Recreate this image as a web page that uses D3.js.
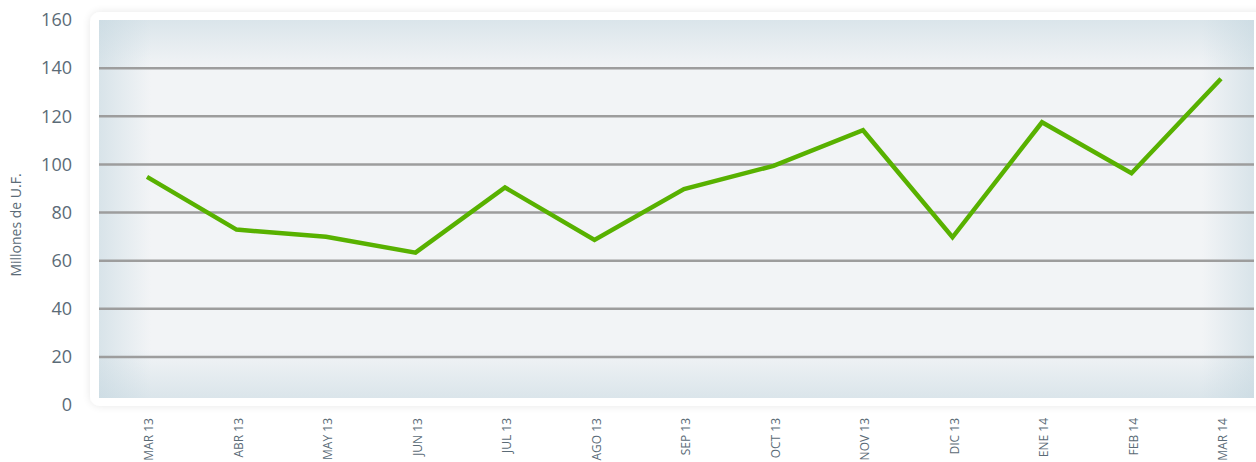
<!DOCTYPE html>
<html lang="es">
<head>
    <meta charset="UTF-8">
    <title>Millones de U.F.</title>
    <style>
        body {
            margin: 0;
            padding: 0;
            background: #fff;
            overflow: hidden;
            font-family: "Open Sans", Arial, sans-serif;
        }

        .grid line {
            stroke: #9d9d9d;
            stroke-width: 2.5px;
        }

        .y-label, .x-label, .axis-title {
            fill: #5b6b77;
        }
    </style>
</head>
<body>
    <script src="https://d3js.org/d3.v7.min.js"></script>
    <script>
        const months = ["MAR 13", "ABR 13", "MAY 13", "JUN 13", "JUL 13", "AGO 13", "SEP 13",
                        "OCT 13", "NOV 13", "DIC 13", "ENE 14", "FEB 14", "MAR 14"];
        const values = [94.8, 72.9, 69.9, 63.3, 90.4, 68.6, 89.7, 99.4, 114.2, 69.7, 117.5, 96.3, 135.6];
        const yTicks = [0, 20, 40, 60, 80, 100, 120, 140, 160];

        const width = 1256;
        const height = 462;

        const svg = d3.select("body").append("svg")
            .attr("width", width)
            .attr("height", height);

        const x = d3.scalePoint()
            .domain(months)
            .range([147, 1221]);

        const y = d3.scaleLinear()
            .domain([0, 160])
            .range([405, 20]);

        const defs = svg.append("defs");

        // soft shadow for the white frame
        const shadow = defs.append("filter")
            .attr("id", "shadow")
            .attr("x", "-5%").attr("y", "-10%")
            .attr("width", "110%").attr("height", "120%");
        shadow.append("feGaussianBlur")
            .attr("in", "SourceAlpha")
            .attr("stdDeviation", 4);
        shadow.append("feComponentTransfer")
            .append("feFuncA").attr("type", "linear").attr("slope", 0.1);
        const merge = shadow.append("feMerge");
        merge.append("feMergeNode");
        merge.append("feMergeNode").attr("in", "SourceGraphic");

        // vignette: horizontal and vertical fades to a bluish edge
        const hGrad = defs.append("linearGradient")
            .attr("id", "hgrad").attr("x1", 0).attr("x2", 1).attr("y1", 0).attr("y2", 0);
        [[0, 0.55], [0.045, 0], [0.955, 0], [1, 0.55]].forEach(([o, a]) => {
            hGrad.append("stop").attr("offset", o).attr("stop-color", "#c3d6df").attr("stop-opacity", a);
        });
        const vGrad = defs.append("linearGradient")
            .attr("id", "vgrad").attr("x1", 0).attr("x2", 0).attr("y1", 0).attr("y2", 1);
        [[0, 0.5], [0.13, 0], [0.87, 0], [1, 0.5]].forEach(([o, a]) => {
            vGrad.append("stop").attr("offset", o).attr("stop-color", "#c3d6df").attr("stop-opacity", a);
        });

        const panelLeft = 99, panelTop = 20, panelRight = 1254, panelBottom = 398;

        svg.append("rect")
            .attr("x", 90).attr("y", 12)
            .attr("width", 1180).attr("height", 394)
            .attr("rx", 10)
            .attr("fill", "#fff")
            .attr("filter", "url(#shadow)");

        svg.append("rect")
            .attr("x", panelLeft).attr("y", panelTop)
            .attr("width", panelRight - panelLeft).attr("height", panelBottom - panelTop)
            .attr("fill", "#f2f4f6");
        svg.append("rect")
            .attr("x", panelLeft).attr("y", panelTop)
            .attr("width", panelRight - panelLeft).attr("height", panelBottom - panelTop)
            .attr("fill", "url(#hgrad)");
        svg.append("rect")
            .attr("x", panelLeft).attr("y", panelTop)
            .attr("width", panelRight - panelLeft).attr("height", panelBottom - panelTop)
            .attr("fill", "url(#vgrad)");

        // gridlines
        svg.append("g")
            .attr("class", "grid")
            .selectAll("line")
            .data(yTicks.filter(d => d > 0 && d < 160))
            .enter().append("line")
            .attr("x1", panelLeft)
            .attr("x2", panelRight)
            .attr("y1", d => y(d))
            .attr("y2", d => y(d));

        // y tick labels
        svg.append("g")
            .selectAll("text")
            .data(yTicks)
            .enter().append("text")
            .attr("class", "y-label")
            .attr("x", 72)
            .attr("y", d => y(d))
            .attr("dy", "0.35em")
            .attr("text-anchor", "end")
            .style("font-size", "18px")
            .text(d => d);

        svg.append("text")
            .attr("class", "axis-title")
            .attr("transform", "translate(21,225) rotate(-90)")
            .attr("text-anchor", "middle")
            .style("font-size", "14px")
            .text("Millones de U.F.");

        // x labels, rotated
        svg.append("g")
            .selectAll("text")
            .data(months)
            .enter().append("text")
            .attr("class", "x-label")
            .attr("transform", d => `translate(${x(d) + 2},418) rotate(-90)`)
            .attr("dy", "0.35em")
            .attr("text-anchor", "end")
            .style("font-size", "12px")
            .text(d => d);

        const line = d3.line()
            .x((d, i) => x(months[i]))
            .y(d => y(d));

        svg.append("path")
            .datum(values)
            .attr("fill", "none")
            .attr("stroke", "#58b100")
            .attr("stroke-width", 4.5)
            .attr("stroke-linejoin", "miter")
            .attr("d", line);
    </script>
</body>
</html>
